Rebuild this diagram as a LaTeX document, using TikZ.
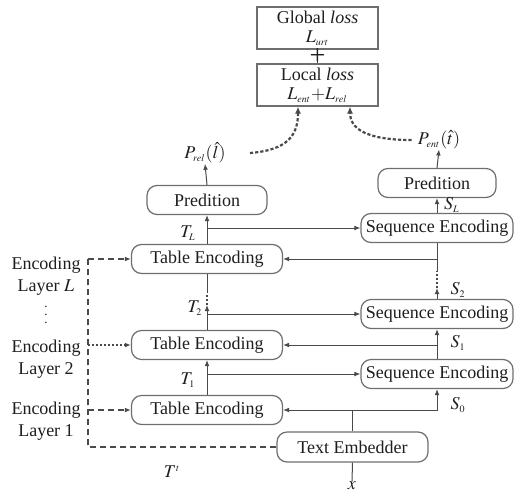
\documentclass[tikz,border=0pt]{standalone}
\usepackage{mathptmx}
\usepackage[no-math]{fontspec}
\setmainfont{Liberation Serif}
\usetikzlibrary{arrows.meta,calc}
\definecolor{boxc}{HTML}{6E6E6E}
\definecolor{linec}{HTML}{4A4A4A}
\definecolor{txt}{HTML}{1E1E1E}
\begin{document}
\begin{tikzpicture}[x=0.5pt,y=-0.5pt,
  every node/.style={text=txt,font=\rmfamily\fontsize{9}{10.5}\selectfont},
  pill/.style={draw=boxc,line width=0.6pt,rounded corners=5pt,minimum height=14.5pt,inner sep=0pt},
  sqbox/.style={draw=boxc,line width=0.6pt,minimum width=60.5pt,minimum height=21pt,inner sep=0pt,align=center},
  conn/.style={draw=linec,line width=0.5pt},
  arr/.style={conn,-{Latex[length=3pt,width=2.4pt]}},
  bus/.style={draw=linec,line width=0.6pt,dash pattern=on 3pt off 2pt},
  dotbus/.style={draw=linec,line width=0.6pt,dash pattern=on 1pt off 1pt},
  curv/.style={draw=linec,line width=1.1pt,dash pattern=on 1.6pt off 1pt,-{Latex[length=3.5pt,width=3pt]}},
  lbl/.style={inner sep=0pt}]
\useasboundingbox (0,0) rectangle (528,492);
% top boxes
\node[sqbox] (glob) at (317.5,28) {Global \textit{loss}\\[-1pt]$L_{\scriptscriptstyle urt}$};
\node[sqbox] (loc) at (317.5,85) {Local \textit{loss}\\[-1pt]$L_{\scriptscriptstyle ent}{+}L_{\scriptscriptstyle rel}$};
\draw[conn] (glob.south) -- (loc.north);
\node[lbl,font=\rmfamily\fontsize{14}{14}\selectfont] (plus) at ($(glob.south)!0.5!(loc.north)$) {+};
% predictions
\node[pill,minimum width=60pt] (predL) at (207,200) {Predition};
\node[pill,minimum width=59pt] (predR) at (437,183) {Predition};
\node[lbl] (prel) at (205,153) {$P_{\scriptscriptstyle rel}(\hat{l})$};
\node[lbl] (pent) at (439,140) {$P_{\scriptscriptstyle ent}(\hat{t})$};
% encodings
\node[pill,minimum width=75.5pt] (teL) at (207,259) {Table Encoding};
\node[pill,minimum width=75.5pt] (te2) at (207,345) {Table Encoding};
\node[pill,minimum width=75.5pt] (te1) at (207,410) {Table Encoding};
\node[pill,minimum width=76pt] (seL) at (437,228) {Sequence Encoding};
\node[pill,minimum width=76pt] (se2) at (437,314) {Sequence Encoding};
\node[pill,minimum width=76pt] (se1) at (437,374) {Sequence Encoding};
\node[pill,minimum width=75.5pt,minimum height=15pt] (emb) at (352.5,447) {Text Embedder};
% labels
\node[lbl] (lx) at (352,486) {$x$};
\node[lbl] (ltt) at (172,472) {$T^{\scriptscriptstyle t}$};
\node[lbl] (lT1) at (188,380) {$T_{\scriptscriptstyle 1}$};
\node[lbl] (lT2) at (195,308) {$T_{\scriptscriptstyle 2}$};
\node[lbl] (lTL) at (188,233) {$T_{\scriptscriptstyle L}$};
\node[lbl] (lS0) at (458,405) {$S_{\scriptscriptstyle 0}$};
\node[lbl] (lS1) at (458,343) {$S_{\scriptscriptstyle 1}$};
\node[lbl] (lS2) at (458,290) {$S_{\scriptscriptstyle 2}$};
\node[lbl] (lSL) at (452,205) {$S_{\scriptscriptstyle L}$};
\node[lbl,align=center] (layL) at (46,276) {Encoding\\[0.5pt]Layer $L$};
\node[lbl,font=\rmfamily\fontsize{6.5}{7}\selectfont] (vd) at (46,309) {$\vdots$};
\node[lbl,align=center] (lay2) at (46,359) {Encoding\\[0.5pt]Layer 2};
\node[lbl,align=center] (lay1) at (46,421) {Encoding\\[0.5pt]Layer 1};
% text embedder connections
\draw[conn] (lx.north) -- (emb.south);
\coordinate (j0) at (emb.north |- te1.east);
\draw[arr] (emb.north) -- (j0) -- (te1.east);
\draw[arr] (j0) -- (se1.south |- j0) -- (se1.south);
% left bus
\coordinate (busx) at (88,0);
\draw[bus] (emb.west) -- (busx |- emb.west) -- (busx |- teL.west);
\draw[bus,-{Latex[length=3pt,width=2.4pt]}] (busx |- te1.west) -- (te1.west);
\draw[dotbus,-{Latex[length=3pt,width=2.4pt]}] (busx |- te2.west) -- (te2.west);
\draw[bus,-{Latex[length=3pt,width=2.4pt]}] (busx |- teL.west) -- (teL.west);
% layer 1 -> 2
\draw[arr] (te1.north) -- (te2.south);
\draw[arr] (te1.north |- se1.west) -- (se1.west);
\draw[arr] (se1.north) -- (se2.south);
\draw[arr] (se1.north |- te2.east) -- (te2.east);
% layer 2 -> L (table)
\coordinate (ta) at (207,305);
\coordinate (tb) at (207,293);
\draw[arr] (te2.north) -- (ta);
\draw[dotbus] (ta) -- (tb);
\draw[conn] (tb) -- (teL.south);
\draw[arr] (te2.north |- se2.west) -- (se2.west);
% layer 2 -> L (sequence)
\coordinate (sa) at (437,288);
\coordinate (sb) at (437,271);
\draw[arr] (se2.north) -- (sa);
\draw[dotbus] (sa) -- (sb);
\draw[conn] (sb) -- (seL.south);
\draw[arr] (seL.south |- teL.east) -- (teL.east);
% layer L -> predictions
\draw[arr] (teL.north) -- (predL.south);
\draw[arr] (teL.north |- seL.west) -- (seL.west);
\draw[arr] (seL.north) -- (predR.south);
\draw[arr] (predL.north) -- (prel.south);
\draw[arr] (predR.north) -- (pent.south);
% curves to local loss
\coordinate (c1) at ($(prel.east)+(24,0)$);
\coordinate (c2) at ($(pent.west)+(-6,0)$);
\draw[curv] (c1) .. controls (288,150) and (298,135) .. (loc.south -| 298,0);
\draw[curv] (c2) .. controls (365,140) and (350,128) .. (loc.south -| 350,0);
\end{tikzpicture}
\end{document}
